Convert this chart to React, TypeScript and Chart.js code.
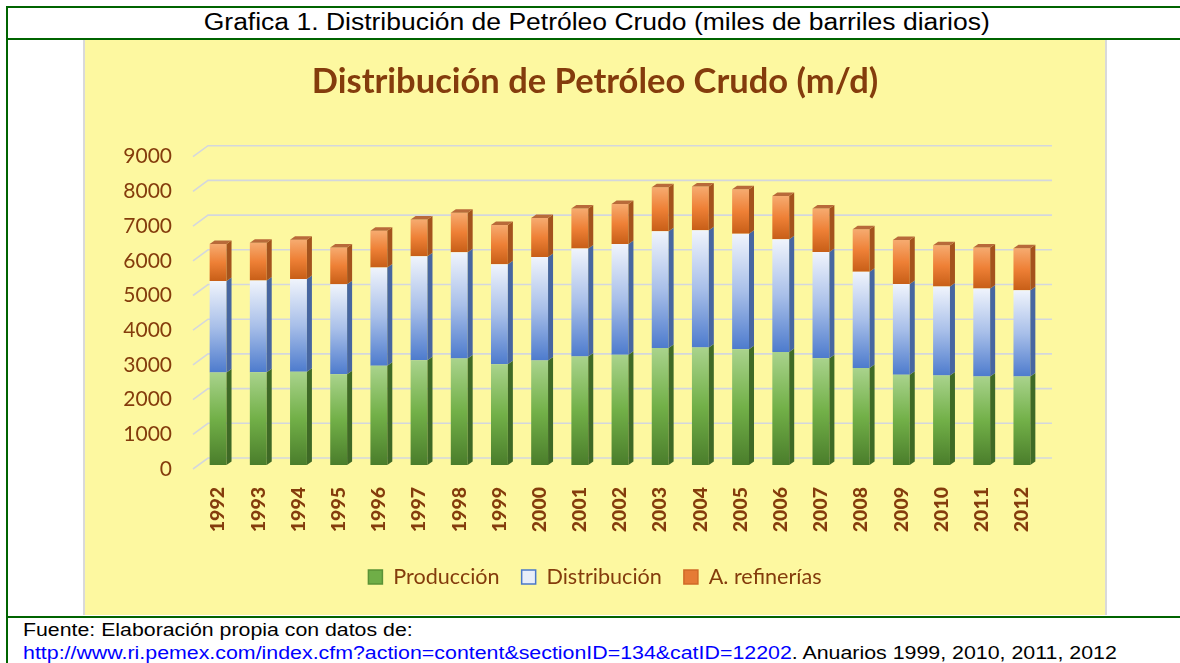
import React, { useEffect, useRef } from "react";
import { Chart, registerables } from "chart.js";

Chart.register(...registerables);

const years = ["1992","1993","1994","1995","1996","1997","1998","1999","2000","2001","2002","2003","2004","2005","2006","2007","2008","2009","2010","2011","2012"];
const produccion = [2668, 2673, 2685, 2617, 2858, 3022, 3070, 2906, 3012, 3127, 3177, 3371, 3383, 3333, 3256, 3076, 2792, 2601, 2577, 2553, 2548];
const distribucion = [2632, 2643, 2672, 2593, 2836, 2997, 3063, 2882, 2980, 3112, 3190, 3363, 3381, 3334, 3248, 3063, 2775, 2614, 2565, 2536, 2487];
const refinerias = [1066, 1086, 1132, 1058, 1054, 1058, 1136, 1132, 1124, 1153, 1153, 1268, 1259, 1277, 1248, 1251, 1230, 1268, 1190, 1182, 1211];
const seriesNames = ["Producción", "Distribución", "A. refinerías"];
const yMax = 9000;
const yStep = 1000;

const BROWN = "#843c0c";

const fronts = [
  ["#a9d38c", "#72b048", "#4a7d2b"],
  ["#f0f4fc", "#a8bfe9", "#4d7bcd"],
  ["#f6ab70", "#ee8036", "#c75e17"],
];
const sides = ["#3f6a26", "#4766a0", "#a4531d"];
const topFace = "#b86a3a";
const legendFill = ["#6fae47", "#e8eef9", "#e57b35"];
const legendStroke = ["#5a9236", "#4a78c8", "#cf6a27"];

const allSeries = [produccion, distribucion, refinerias];

function frontGradient(ctx: any) {
  const chart = ctx.chart;
  const ds = ctx.datasetIndex;
  const y = chart.scales && chart.scales.y;
  if (ctx.type !== "data" || !y) return fronts[ds][1];
  const i = ctx.dataIndex;
  let base = 0;
  for (let k = 0; k < ds; k++) base += allSeries[k][i];
  const top = base + allSeries[ds][i];
  const yTop = y.getPixelForValue(top);
  const yBot = y.getPixelForValue(base);
  if (!isFinite(yTop) || !isFinite(yBot) || yTop === yBot) return fronts[ds][1];
  const g = chart.ctx.createLinearGradient(0, yTop, 0, yBot);
  g.addColorStop(0, fronts[ds][0]);
  g.addColorStop(0.5, fronts[ds][1]);
  g.addColorStop(1, fronts[ds][2]);
  return g;
}

const DX = 5;
const DY = 3.5;

const threeD = {
  id: "threeD",
  beforeDatasetsDraw(chart: any) {
    const { ctx, chartArea } = chart;
    const y = chart.scales.y;
    ctx.save();
    ctx.strokeStyle = "#d4d7dd";
    ctx.lineWidth = 1.6;
    y.ticks.forEach((t: any) => {
      const py = y.getPixelForValue(t.value);
      ctx.beginPath();
      ctx.moveTo(chartArea.left - 5, py + 4);
      ctx.lineTo(chartArea.left + 10, py - 7);
      ctx.lineTo(chartArea.right + 10, py - 7);
      ctx.stroke();
    });
    ctx.restore();
  },
  afterDatasetsDraw(chart: any) {
    const ctx = chart.ctx;
    const n = chart.data.datasets.length;
    ctx.save();
    for (let d = 0; d < n; d++) {
      const meta = chart.getDatasetMeta(d);
      meta.data.forEach((el: any) => {
        const p = el.getProps(["x", "y", "base", "width"], true);
        const xl = p.x - p.width / 2;
        const xr = p.x + p.width / 2;
        ctx.fillStyle = sides[d];
        ctx.beginPath();
        ctx.moveTo(xr, p.y);
        ctx.lineTo(xr + DX, p.y - DY);
        ctx.lineTo(xr + DX, p.base - DY);
        ctx.lineTo(xr, p.base);
        ctx.closePath();
        ctx.fill();
        if (d === n - 1) {
          ctx.fillStyle = topFace;
          ctx.beginPath();
          ctx.moveTo(xl, p.y);
          ctx.lineTo(xl + DX, p.y - DY);
          ctx.lineTo(xr + DX, p.y - DY);
          ctx.lineTo(xr, p.y);
          ctx.closePath();
          ctx.fill();
        }
      });
    }
    ctx.restore();
  },
};

function BarChart() {
  const ref = useRef<HTMLCanvasElement | null>(null);
  useEffect(() => {
    if (!ref.current) return;
    const chart = new Chart(ref.current, {
      type: "bar",
      data: {
        labels: years,
        datasets: allSeries.map((s, k) => ({
          label: seriesNames[k],
          data: s,
          backgroundColor: frontGradient,
          borderWidth: 0,
          categoryPercentage: 1,
          barPercentage: 0.42,
          yAxisID: "y",
        })),
      },
      options: {
        responsive: false,
        animation: false,
        devicePixelRatio: 1,
        layout: { padding: { left: 0, right: 0, top: 0, bottom: 17.2 } },
        plugins: {
          tooltip: { enabled: false },
          title: {
            display: true,
            text: "Distribución de Petróleo Crudo (m/d)",
            color: BROWN,
            font: { family: "Lato", size: 34.5, weight: "bold", lineHeight: 1.2 },
            padding: { top: 21, bottom: 50.3 },
          },
          legend: {
            position: "bottom",
            labels: {
              color: BROWN,
              font: { family: "Lato", size: 21.6 },
              boxWidth: 14,
              boxHeight: 14,
              padding: 22,
              generateLabels: () =>
                seriesNames.map((name, k) => ({
                  text: name,
                  fillStyle: legendFill[k],
                  strokeStyle: legendStroke[k],
                  lineWidth: 1.5,
                  fontColor: BROWN,
                  datasetIndex: k,
                  hidden: false,
                })),
            },
          },
        },
        scales: {
          x: {
            stacked: true,
            grid: { display: false, drawTicks: false },
            border: { display: false },
            ticks: {
              color: BROWN,
              font: { family: "Lato", size: 19.5, weight: "900" },
              maxRotation: 90,
              minRotation: 90,
              autoSkip: false,
              padding: 22,
            },
            afterFit: (scale: any) => {
              scale.height = 79.2;
            },
          },
          y: {
            stacked: true,
            min: 0,
            max: yMax,
            grid: { display: false, drawTicks: false },
            border: { display: false },
            ticks: {
              stepSize: yStep,
              color: BROWN,
              font: { family: "Lato", size: 21 },
              padding: 26,
              labelOffset: 4,
              callback: (v: any) => String(v),
            },
            afterFit: (scale: any) => {
              scale.width = 113;
            },
          },
          yRight: {
            type: "linear",
            position: "right",
            display: true,
            min: 0,
            max: yMax,
            grid: { display: false, drawTicks: false },
            border: { display: false },
            ticks: { display: false },
            afterFit: (scale: any) => {
              scale.width = 63;
            },
          },
        },
      },
      plugins: [threeD],
    });
    return () => chart.destroy();
  }, []);
  return <canvas ref={ref} width={1020} height={575} style={{ display: "block", width: 1020, height: 575 }} />;
}

const GREEN = "#006400";

export default function App() {
  const abs = (s: React.CSSProperties): React.CSSProperties => ({ position: "absolute", ...s });
  const textFont = '"Liberation Sans", Arial, sans-serif';
  return (
    <div style={abs({ left: 0, top: 0, width: 1180, height: 663, background: "#ffffff", overflow: "hidden" })}>
      <div style={abs({ left: 6, top: 6, width: 1174, height: 2, background: GREEN })} />
      <div style={abs({ left: 6, top: 6, width: 2, height: 657, background: GREEN })} />
      <div style={abs({ left: 6, top: 38, width: 1174, height: 2, background: GREEN })} />
      <div style={abs({ left: 6, top: 616, width: 1174, height: 2, background: GREEN })} />
      <div
        style={abs({
          left: 8,
          top: 9,
          width: 1178,
          height: 26,
          textAlign: "center",
          fontFamily: textFont,
          fontSize: 23.5,
          lineHeight: "26px",
          color: "#000",
          whiteSpace: "nowrap",
        })}
      >
        <span style={{ display: "inline-block", transform: "scaleX(1.127)" }}>
          Grafica 1. Distribución de Petróleo Crudo (miles de barriles diarios)
        </span>
      </div>
      <div
        style={abs({
          left: 83,
          top: 40,
          width: 1020,
          height: 575,
          background: "#fdf8a0",
          borderLeft: "2px solid #d9d9d9",
          borderRight: "2px solid #d9d9d9",
        })}
      >
        <BarChart />
      </div>
      <div
        style={abs({
          left: 23,
          top: 619,
          fontFamily: textFont,
          fontSize: 18.7,
          lineHeight: "22px",
          color: "#000",
          whiteSpace: "nowrap",
          transform: "scaleX(1.14)",
          transformOrigin: "0 0",
        })}
      >
        Fuente: Elaboración propia con datos de:
      </div>
      <div
        style={abs({
          left: 23,
          top: 642,
          fontFamily: textFont,
          fontSize: 18.7,
          lineHeight: "22px",
          color: "#000",
          whiteSpace: "nowrap",
          transform: "scaleX(1.143)",
          transformOrigin: "0 0",
        })}
      >
        <span style={{ color: "#0000ff" }}>http://www.ri.pemex.com/index.cfm?action=content&amp;sectionID=134&amp;catID=12202</span>
        . Anuarios 1999, 2010, 2011, 2012
      </div>
    </div>
  );
}
